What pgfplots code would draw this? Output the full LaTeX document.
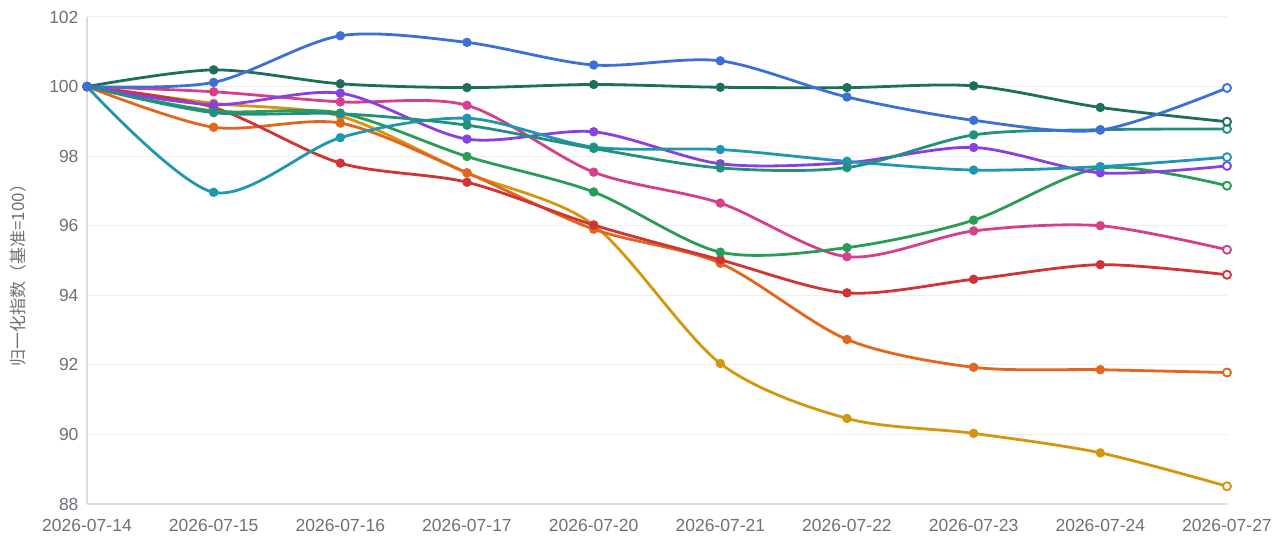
\documentclass[border=0pt]{standalone}
\usepackage{fontspec}
\setmainfont{Liberation Sans}
\newfontfamily\cjk{Noto Sans CJK SC}
\usepackage{pgfplots}
\usepackage{pgfplotstable}
\pgfplotsset{compat=1.18}
\definecolor{cblue}{HTML}{3D6FD9}
\definecolor{cdteal}{HTML}{1E6E5E}
\definecolor{ctgreen}{HTML}{21907E}
\definecolor{ccyan}{HTML}{1F96B2}
\definecolor{cpurple}{HTML}{8A40E0}
\definecolor{cgreen}{HTML}{2A9D55}
\definecolor{cpink}{HTML}{D6408A}
\definecolor{cred}{HTML}{D13434}
\definecolor{corange}{HTML}{E3661C}
\definecolor{cgold}{HTML}{D4960F}
\definecolor{labgray}{HTML}{6E7079}
\definecolor{gridgray}{HTML}{EEEEEE}
\definecolor{axgray}{HTML}{DDDDDD}
\pgfplotstableread{
x blue dteal tgreen cyan purple green pink red orange gold
0 100 100 100 100 100 100 100 100 100 100
1 100.12 100.48 99.25 96.96 99.48 99.30 99.85 99.40 98.83 99.52
2 101.46 100.08 99.22 98.53 99.81 99.24 99.56 97.80 98.95 99.15
3 101.27 99.97 98.89 99.09 98.49 97.99 99.46 97.25 97.52 97.52
4 100.62 100.06 98.22 98.26 98.70 96.97 97.54 96.02 95.90 96.02
5 100.74 99.98 97.66 98.19 97.78 95.24 96.65 95.02 94.92 92.04
6 99.70 99.97 97.67 97.85 97.81 95.37 95.11 94.07 92.73 90.46
7 99.03 100.02 98.61 97.60 98.25 96.16 95.85 94.46 91.93 90.03
8 98.75 99.40 98.76 97.70 97.52 97.66 96.00 94.88 91.86 89.47
9 99.96 98.99 98.78 97.97 97.72 97.15 95.31 94.59 91.78 88.51
}\data
\newcommand\ser[2]{%
\addplot[color=#2, line width=2.8pt, smooth, mark=*, mark size=4.2pt, mark options={fill=#2, line width=1pt}] table[x=x,y=#1]{\data};
\addplot[color=#2, only marks, mark=*, mark size=4pt, mark indices={10}, mark options={fill=white, line width=1.8pt}] table[x=x,y=#1]{\data};
}
\begin{document}
\begin{tikzpicture}
\begin{axis}[
  at={(87pt,40pt)}, anchor=south west,
  scale only axis, width=1140pt, height=487pt,
  xmin=0, xmax=9, ymin=88, ymax=102,
  xtick={0,...,9},
  xticklabels={2026-07-14,2026-07-15,2026-07-16,2026-07-17,2026-07-20,2026-07-21,2026-07-22,2026-07-23,2026-07-24,2026-07-27},
  ytick={88,90,...,102},
  axis lines=left,
  axis line style={-, draw=axgray, line width=1.2pt},
  ymajorgrids, grid style={draw=gridgray, line width=1pt},
  major tick length=0pt,
  clip=false,
  /pgf/number format/assume math mode=true,
  ticklabel style={font=\fontsize{17.5}{20}\selectfont, text=labgray},
  xticklabel style={yshift=-12pt},
  yticklabel style={xshift=-5pt},
  ylabel={\cjk 归一化指数（基准=100）},
  ylabel style={at={(axis description cs:-0.0605,0.478)}, anchor=center, font=\fontsize{17}{20}\selectfont, text=labgray},
]
\ser{gold}{cgold}
\ser{orange}{corange}
\ser{red}{cred}
\ser{pink}{cpink}
\ser{green}{cgreen}
\ser{purple}{cpurple}
\ser{cyan}{ccyan}
\ser{tgreen}{ctgreen}
\ser{dteal}{cdteal}
\ser{blue}{cblue}
\end{axis}
\pgfresetboundingbox
\path (0,0) rectangle (1280pt,544pt);
\end{tikzpicture}
\end{document}
